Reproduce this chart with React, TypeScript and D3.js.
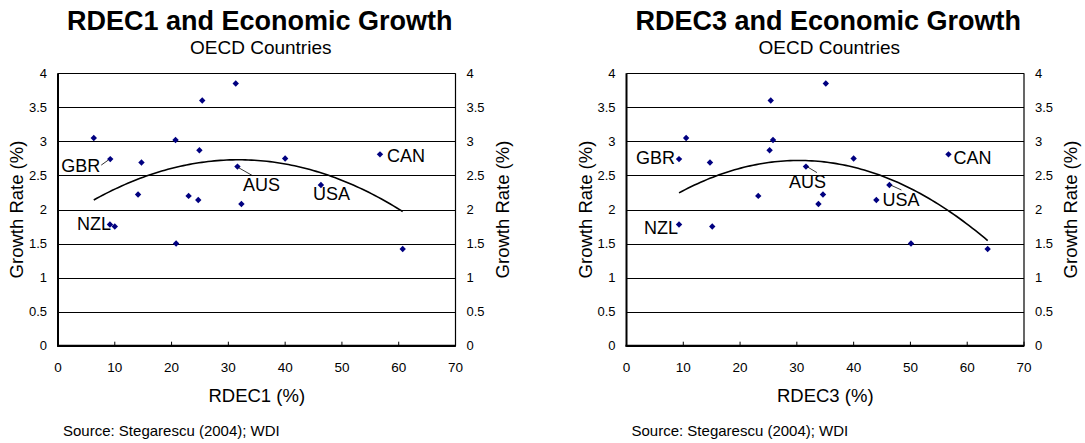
import React from "react";
import * as d3 from "d3";

// Country codes (only the annotated ones carry a name)
const countries = ["", "GBR", "", "", "", "", "", "AUS", "", "CAN", "USA", "", "", "", "", "NZL", "", "", ""];
// Average growth rate (%), same for both panels
const growth = [3.05, 2.74, 2.69, 3.02, 3.6, 3.85, 2.87, 2.63, 2.75, 2.81, 2.36, 2.22, 2.2, 2.14, 2.08, 1.78, 1.75, 1.5, 1.42];
// Decentralisation measures (%)
const rdec1 = [6.3, 9.2, 14.7, 20.7, 25.4, 31.3, 24.9, 31.6, 40.0, 56.7, 46.3, 14.1, 23.0, 24.7, 32.3, 9.15, 10.0, 20.8, 60.7];
const rdec3 = [10.5, 9.25, 14.7, 25.8, 25.4, 35.1, 25.2, 31.6, 40.0, 56.7, 46.3, 34.6, 23.2, 44.0, 33.8, 9.25, 15.1, 50.1, 63.6];

// Polynomial trendline coefficients [a, b, c] for y = a + b x + c x^2
const trend1 = [1.812, 0.05778, -0.000909];
const trend3 = [1.736, 0.06477, -0.001066];

const xTicks = [0, 10, 20, 30, 40, 50, 60, 70];
const yTicks = [0, 0.5, 1, 1.5, 2, 2.5, 3, 3.5, 4];

const FONT = "Liberation Sans, Arial, Helvetica, sans-serif";

type LabelPlace = { dx: number; dy: number; anchor: "start" | "end"; leader?: [number, number, number, number] };

function Panel(props: {
  title: string;
  xLabel: string;
  xs: number[];
  trend: number[];
  left: number;
  right: number;
  top: number;
  bottom: number;
  places: Record<string, LabelPlace>;
}) {
  const { title, xLabel, xs, trend, left, right, top, bottom, places } = props;
  const x = d3.scaleLinear().domain([0, 70]).range([left, right]);
  const y = d3.scaleLinear().domain([0, 4]).range([bottom, top]);
  const cx = (left + right) / 2;

  const [a, b, c] = trend;
  const xMin = d3.min(xs)!, xMax = d3.max(xs)!;
  const curvePts = d3.range(0, 101).map((i) => {
    const v = xMin + ((xMax - xMin) * i) / 100;
    return [v, a + b * v + c * v * v] as [number, number];
  });
  const line = d3.line<[number, number]>().x((d) => x(d[0])).y((d) => y(d[1]));
  const diamond = "M0,-3.2L3.2,0L0,3.2L-3.2,0Z";

  return (
    <g fontFamily={FONT}>
      <text x={cx + 3} y={30} textAnchor="middle" fontSize={27} fontWeight="bold">{title}</text>
      <text x={cx + 4} y={54} textAnchor="middle" fontSize={19}>OECD Countries</text>

      {/* grid */}
      {yTicks.map((t) => (
        <line key={"g" + t} x1={left} x2={right} y1={Math.round(y(t)) + 0.5} y2={Math.round(y(t)) + 0.5} stroke="#000" strokeWidth={1} />
      ))}
      {/* frame */}
      <line x1={right} x2={right} y1={top} y2={bottom} stroke="#000" strokeWidth={1.2} />
      <line x1={left} x2={left} y1={top} y2={bottom + 1} stroke="#000" strokeWidth={2} />
      <line x1={left - 1} x2={right + 0.5} y1={bottom} y2={bottom} stroke="#000" strokeWidth={2} />
      {xTicks.map((t) => (
        <line key={"xt" + t} x1={x(t)} x2={x(t)} y1={bottom} y2={bottom - 4} stroke="#000" strokeWidth={1} />
      ))}

      {/* tick labels */}
      {yTicks.map((t) => (
        <g key={"yl" + t} fontSize={13}>
          <text x={left - 11} y={y(t) + 4.5} textAnchor="end">{String(t)}</text>
          <text x={right + 11} y={y(t) + 4.5} textAnchor="start">{String(t)}</text>
        </g>
      ))}
      {xTicks.map((t) => (
        <text key={"xl" + t} x={x(t)} y={bottom + 26} textAnchor="middle" fontSize={13.5}>{String(t)}</text>
      ))}

      {/* axis titles */}
      <text x={cx} y={bottom + 56} textAnchor="middle" fontSize={18.5}>{xLabel}</text>
      <text transform={`translate(${left - 35},${(top + bottom) / 2}) rotate(-90)`} textAnchor="middle" fontSize={18.5}>Growth Rate (%)</text>
      <text transform={`translate(${right + 53},${(top + bottom) / 2}) rotate(-90)`} textAnchor="middle" fontSize={18.5}>Growth Rate (%)</text>

      <text x={left + 5} y={bottom + 90} fontSize={15}>Source: Stegarescu (2004); WDI</text>

      {/* trend */}
      <path d={line(curvePts)!} fill="none" stroke="#000" strokeWidth={1.6} />

      {/* points */}
      {xs.map((v, i) => (
        <path key={"p" + i} d={diamond} transform={`translate(${x(v)},${y(growth[i])})`} fill="#000080" />
      ))}

      {/* country labels */}
      {countries.map((name, i) => {
        if (!name || !places[name]) return null;
        const p = places[name];
        const px = x(xs[i]), py = y(growth[i]);
        return (
          <g key={"c" + name}>
            {p.leader && (
              <line x1={px + p.leader[0]} y1={py + p.leader[1]} x2={px + p.leader[2]} y2={py + p.leader[3]} stroke="#000" strokeWidth={0.8} />
            )}
            <text x={px + p.dx} y={py + p.dy} textAnchor={p.anchor} fontSize={18}>{name}</text>
          </g>
        );
      })}
    </g>
  );
}

const placesLeft: Record<string, LabelPlace> = {
  GBR: { dx: -10, dy: 12.5, anchor: "end", leader: [-2, 1, -9, 6] },
  CAN: { dx: 7, dy: 7.5, anchor: "start" },
  AUS: { dx: 5.5, dy: 24, anchor: "start", leader: [1, 1, 15, 9] },
  USA: { dx: -8, dy: 14.7, anchor: "start" },
  NZL: { dx: -33, dy: 5.5, anchor: "start" },
};

const placesRight: Record<string, LabelPlace> = {
  GBR: { dx: -4, dy: 5, anchor: "end" },
  CAN: { dx: 5, dy: 9.3, anchor: "start" },
  AUS: { dx: -17, dy: 21.5, anchor: "start", leader: [1, 0, 11, 6] },
  USA: { dx: -6.8, dy: 21, anchor: "start", leader: [1, 0, 12, 5] },
  NZL: { dx: -35, dy: 9.5, anchor: "start" },
};

export default function App() {
  return (
    <svg width={1085} height={443} style={{ position: "absolute", left: 0, top: 0, background: "#fff" }}>
      <rect width={1085} height={443} fill="#fff" />
      <Panel title="RDEC1 and Economic Growth" xLabel="RDEC1 (%)" xs={rdec1} trend={trend1} left={58} right={455.5} top={73.3} bottom={345.7} places={placesLeft} />
      <Panel title="RDEC3 and Economic Growth" xLabel="RDEC3 (%)" xs={rdec3} trend={trend3} left={626.5} right={1024} top={73.3} bottom={345.7} places={placesRight} />
    </svg>
  );
}
